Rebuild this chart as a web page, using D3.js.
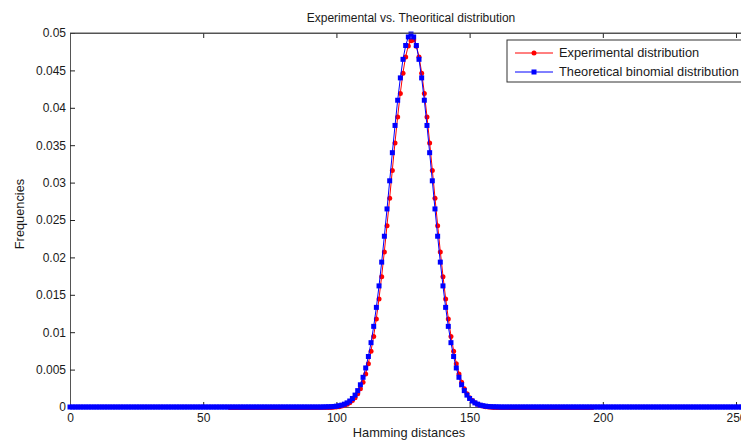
<!DOCTYPE html>
<meta charset="utf-8">
<style>
  body { margin: 0; background: #fff; }
  svg { display: block; font-family: "Liberation Sans", Arial, sans-serif; }
  .tick text { font-size: 12px; fill: #1a1a1a; }
  .label { font-size: 12px; fill: #1a1a1a; }
  .big { font-size: 12.8px; }
</style>
<body>
<script src="https://d3js.org/d3.v7.min.js"></script>
<script>
// x ticks / y ticks
var xTicks = [0, 50, 100, 150, 200, 250];
var yTicks = [0, 0.005, 0.01, 0.015, 0.02, 0.025, 0.03, 0.035, 0.04, 0.045, 0.05];

var seriesNames = ["Experimental distribution", "Theoretical binomial distribution"];

// experimental distribution, hamming distance 60..196
var expStart = 60;
var expFreq = [
  0, 0, 0, 0, 0, 0, 0, 0, 0, 0,          // 60-69
  0, 0, 0, 0, 0, 0, 0, 0, 0, 0,          // 70-79
  0, 0, 0, 0, 0, 0, 0, 0, 0, 0,          // 80-89
  0, 0, 0, 0, 0, 0,                      // 90-95
  0.00001, 0.00002, 0.00003, 0.00005,    // 96-99
  0.00008, 0.00013, 0.00020, 0.00031, 0.00045, 0.00066, 0.00094, 0.00133, 0.00185, 0.00252, // 100-109
  0.00340, 0.00450, 0.00587, 0.00753, 0.00952, 0.01185, 0.01452, 0.01751, 0.02079, 0.02431, // 110-119
  0.02798, 0.03171, 0.03537, 0.03884, 0.04200, 0.04471, 0.04686, 0.04834, 0.04905, 0.04915, // 120-129
  0.04830, 0.04686, 0.04471, 0.04200, 0.03884, 0.03537, 0.03171, 0.02798, 0.02431, 0.02079, // 130-139
  0.01751, 0.01452, 0.01185, 0.00952, 0.00753, 0.00587, 0.00450, 0.00340, 0.00252, 0.00185, // 140-149
  0.00133, 0.00094, 0.00066, 0.00045, 0.00031, 0.00020, 0.00013, 0.00008, 0.00005, 0.00003, // 150-159
  0.00002, 0.00001,                      // 160-161
  0, 0, 0, 0, 0, 0, 0, 0,                // 162-169
  0, 0, 0, 0, 0, 0, 0, 0, 0, 0,          // 170-179
  0, 0, 0, 0, 0, 0, 0, 0, 0, 0,          // 180-189
  0, 0, 0, 0, 0, 0, 0                    // 190-196
];

// theoretical binomial distribution, hamming distance 0..256
var theoStart = 0;
var theoFreq = [
  0, 0, 0, 0, 0, 0, 0, 0, 0, 0,          // 0-9
  0, 0, 0, 0, 0, 0, 0, 0, 0, 0,          // 10-19
  0, 0, 0, 0, 0, 0, 0, 0, 0, 0,          // 20-29
  0, 0, 0, 0, 0, 0, 0, 0, 0, 0,          // 30-39
  0, 0, 0, 0, 0, 0, 0, 0, 0, 0,          // 40-49
  0, 0, 0, 0, 0, 0, 0, 0, 0, 0,          // 50-59
  0, 0, 0, 0, 0, 0, 0, 0, 0, 0,          // 60-69
  0, 0, 0, 0, 0, 0, 0, 0, 0, 0,          // 70-79
  0, 0, 0, 0, 0, 0, 0, 0, 0, 0,          // 80-89
  0, 0, 0, 0, 0,                         // 90-94
  0.00001, 0.00002, 0.00003, 0.00004, 0.00007, // 95-99
  0.00011, 0.00017, 0.00025, 0.00038, 0.00055, 0.00080, 0.00114, 0.00159, 0.00219, 0.00297, // 100-109
  0.00397, 0.00522, 0.00675, 0.00860, 0.01078, 0.01332, 0.01619, 0.01937, 0.02283, 0.02648, // 110-119
  0.03024, 0.03400, 0.03764, 0.04101, 0.04400, 0.04648, 0.04833, 0.04947, 0.04986, 0.04947, // 120-129
  0.04833, 0.04648, 0.04400, 0.04101, 0.03764, 0.03400, 0.03024, 0.02648, 0.02283, 0.01937, // 130-139
  0.01619, 0.01332, 0.01078, 0.00860, 0.00675, 0.00522, 0.00397, 0.00297, 0.00219, 0.00159, // 140-149
  0.00114, 0.00080, 0.00055, 0.00038, 0.00025, 0.00017, 0.00011, 0.00007, 0.00004, 0.00003, // 150-159
  0.00002, 0.00001,                      // 160-161
  0, 0, 0, 0, 0, 0, 0, 0,                // 162-169
  0, 0, 0, 0, 0, 0, 0, 0, 0, 0,          // 170-179
  0, 0, 0, 0, 0, 0, 0, 0, 0, 0,          // 180-189
  0, 0, 0, 0, 0, 0, 0, 0, 0, 0,          // 190-199
  0, 0, 0, 0, 0, 0, 0, 0, 0, 0,          // 200-209
  0, 0, 0, 0, 0, 0, 0, 0, 0, 0,          // 210-219
  0, 0, 0, 0, 0, 0, 0, 0, 0, 0,          // 220-229
  0, 0, 0, 0, 0, 0, 0, 0, 0, 0,          // 230-239
  0, 0, 0, 0, 0, 0, 0, 0, 0, 0,          // 240-249
  0, 0, 0, 0, 0, 0, 0                    // 250-256
];

var width = 741, height = 442;
var margin = {top: 33, left: 70, bottom: 35};
var plotRight = 752;   // axes box runs past the window edge

var x = d3.scaleLinear().domain([0, 256]).range([margin.left, plotRight]);
var y = d3.scaleLinear().domain([0, 0.05]).range([height - margin.bottom, margin.top]);

var svg = d3.select("body").append("svg")
    .attr("width", width)
    .attr("height", height);

svg.append("rect").attr("width", width).attr("height", height).attr("fill", "#fff");

svg.append("defs").append("clipPath").attr("id", "clip")
  .append("rect")
    .attr("x", x.range()[0] - 4).attr("y", y.range()[1] - 4)
    .attr("width", plotRight - margin.left + 8)
    .attr("height", y.range()[0] - y.range()[1] + 8);

// axes (MATLAB style: ticks inside, box all round)
var axColor = "#555";
var tick = 5;

var gx = svg.append("g")
    .attr("transform", "translate(0," + y(0) + ")")
    .call(d3.axisBottom(x).tickValues(xTicks).tickSize(-tick).tickPadding(8).tickFormat(d3.format("d")));
var gxTop = svg.append("g")
    .attr("transform", "translate(0," + y(0.05) + ")")
    .call(d3.axisTop(x).tickValues(xTicks).tickSize(-tick).tickFormat(""));
var gy = svg.append("g")
    .attr("transform", "translate(" + x(0) + ",0)")
    .call(d3.axisLeft(y).tickValues(yTicks).tickSize(-tick).tickPadding(4).tickFormat(d3.format("~g")));

[gx, gxTop, gy].forEach(function(g) {
  g.selectAll(".domain").attr("stroke", axColor);
  g.selectAll(".tick line").attr("stroke", "#222");
});
gx.selectAll("text").attr("dy", "0.6em");

// expand to [x, y] pairs
var expData = expFreq.map(function(v, i) { return [expStart + i, v]; });
var theoData = theoFreq.map(function(v, i) { return [theoStart + i, v]; });

var line = d3.line()
    .x(function(d) { return x(d[0]); })
    .y(function(d) { return y(d[1]); });

var plot = svg.append("g").attr("clip-path", "url(#clip)");

plot.append("path").datum(expData)
    .attr("fill", "none").attr("stroke", "#ff0000").attr("stroke-width", 1)
    .attr("d", line);
plot.selectAll(".expDot").data(expData).enter().append("circle")
    .attr("class", "expDot")
    .attr("cx", function(d) { return x(d[0]); })
    .attr("cy", function(d) { return y(d[1]) + 0.6; })
    .attr("r", 2.5)
    .attr("fill", "#ff0000");

plot.append("path").datum(theoData)
    .attr("fill", "none").attr("stroke", "#0000ff").attr("stroke-width", 1)
    .attr("d", line);
var sq = 5;
plot.selectAll(".theoSq").data(theoData).enter().append("rect")
    .attr("class", "theoSq")
    .attr("x", function(d) { return x(d[0]) - sq / 2; })
    .attr("y", function(d) { return y(d[1]) - sq / 2; })
    .attr("width", sq).attr("height", sq)
    .attr("fill", "#0000ff");

// top box line drawn over the peak markers
svg.append("line")
    .attr("x1", x(0)).attr("x2", plotRight)
    .attr("y1", y(0.05)).attr("y2", y(0.05))
    .attr("stroke", axColor);

// title & labels
svg.append("text").attr("class", "label")
    .attr("x", (margin.left + plotRight) / 2).attr("y", 22)
    .attr("text-anchor", "middle")
    .text("Experimental vs. Theoritical distribution");

svg.append("text").attr("class", "label big")
    .attr("x", (margin.left + plotRight) / 2 - 2).attr("y", 437)
    .attr("text-anchor", "middle")
    .text("Hamming distances");

svg.append("text").attr("class", "label big")
    .attr("transform", "translate(24," + ((y(0) + y(0.05)) / 2 - 6) + ") rotate(-90)")
    .attr("text-anchor", "middle")
    .text("Frequencies");

// legend
var legend = svg.append("g").attr("transform", "translate(507,40)");
legend.append("rect")
    .attr("width", 240).attr("height", 42)
    .attr("fill", "#fff").attr("stroke", "#333");

var legendColors = ["#ff0000", "#0000ff"];
seriesNames.forEach(function(name, i) {
  var row = legend.append("g").attr("transform", "translate(0," + (13 + i * 19) + ")");
  row.append("line").attr("x1", 8).attr("x2", 46)
      .attr("stroke", legendColors[i]).attr("stroke-width", 1);
  if (i === 0) {
    row.append("circle").attr("cx", 27).attr("r", 2.5).attr("fill", legendColors[i]);
  } else {
    row.append("rect").attr("x", 27 - sq / 2).attr("y", -sq / 2)
        .attr("width", sq).attr("height", sq).attr("fill", legendColors[i]);
  }
  row.append("text").attr("class", "label big")
      .attr("x", 52).attr("dy", "0.35em")
      .text(name);
});
</script>
</body>
</html>
